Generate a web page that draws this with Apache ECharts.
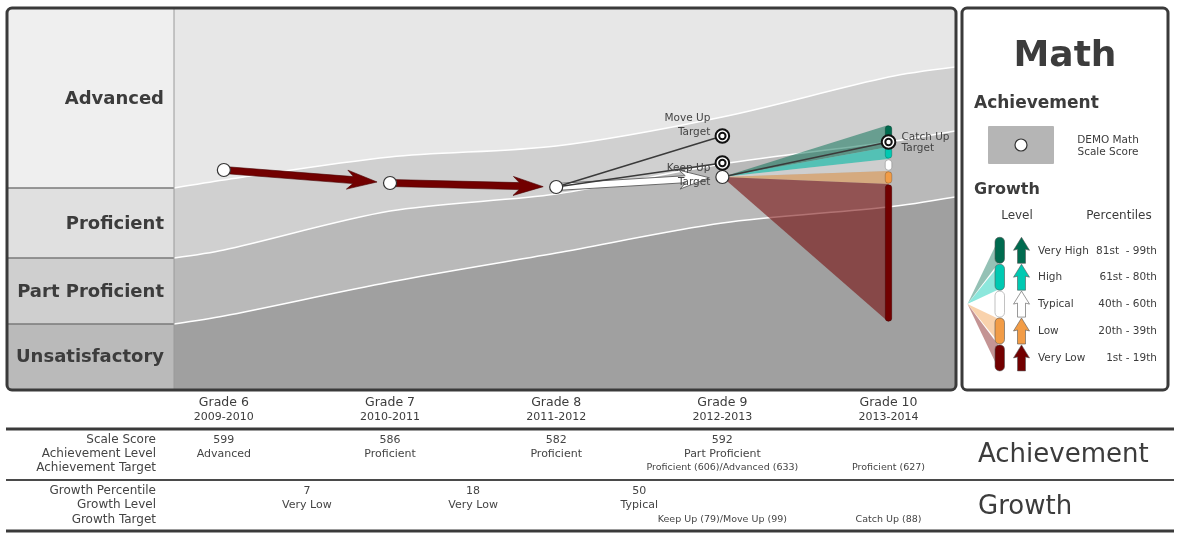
<!DOCTYPE html>
<html><head><meta charset="utf-8">
<script src="https://cdn.jsdelivr.net/npm/echarts@6.0.0/dist/echarts.min.js"></script>
<style>html,body{margin:0;padding:0;background:#fff}#c{width:1181px;height:539px}</style>
</head><body><div id="c"></div>
<script>
// ---------------- DATA ----------------
const grades = [6, 7, 8, 9, 10];
const gradeLabels = ['Grade 6', 'Grade 7', 'Grade 8', 'Grade 9', 'Grade 10'];
const years = ['2009-2010', '2010-2011', '2011-2012', '2012-2013', '2013-2014'];
const scaleScores = [599, 586, 582, 592];
const achLevels = ['Advanced', 'Proficient', 'Proficient', 'Part Proficient', ''];
const achTargets = ['', '', '', 'Proficient (606)/Advanced (633)', 'Proficient (627)'];
const growthPercentiles = [7, 18, 50];
const growthLevels = ['Very Low', 'Very Low', 'Typical'];
const growthTargets = ['', '', '', 'Keep Up (79)/Move Up (99)', 'Catch Up (88)'];
// achievement cut scores along the grade axis
const cutX = [5.7, 6, 7, 8, 9, 10, 10.4];
const cutAdvanced = [581, 589, 612, 623, 652, 692, 702];
const cutProficient = [511, 519, 558, 575, 605, 627, 638];
const cutPartProf = [445, 453, 487, 516, 546, 562, 572];
const levelNames = ['Advanced', 'Proficient', 'Part Proficient', 'Unsatisfactory'];
// targets  [grade, score, from grade, from score]
const targetNames = [['Move Up', 'Target'], ['Keep Up', 'Target'], ['Catch Up', 'Target']];
const targetScores = [633, 606, 627];
const targetGrades = [9, 9, 10];
const targetFromGrades = [8, 8, 9];
// growth projection cuts at grade 10 (99th, 80th, 60th, 40th, 20th, 1st percentile)
const projGrade = 10;
const projCuts = [644, 622, 610, 598, 585, 447];
const growthLevelNames = ['Very High', 'High', 'Typical', 'Low', 'Very Low'];
const percentileRanges = ['81st  - 99th', '61st - 80th', '40th - 60th', '20th - 39th', '1st - 19th'];
const growthColors = ['#006b4f', '#00c9b2', '#ffffff', '#f29c46', '#720000'];
const rowLabels = ['Scale Score', 'Achievement Level', 'Achievement Target', 'Growth Percentile', 'Growth Level', 'Growth Target'];

// ---------------- STYLE ----------------
const FONT = 'DejaVu Sans';
const TXT = '#3c3c3c';
const YMIN = 380, YMAX = 760;

const chart = echarts.init(document.getElementById('c'), null, {renderer: 'canvas'});

// arrows between consecutive grades
const arrows = [];
for (let i = 0; i < growthLevels.length; i++) {
  arrows.push([grades[i], scaleScores[i], grades[i + 1], scaleScores[i + 1], growthLevelNames.indexOf(growthLevels[i])]);
}
const lastG = grades[scaleScores.length - 1], lastS = scaleScores[scaleScores.length - 1];

// table cells: [x, row, text]
const tableCells = [];
grades.forEach((g, i) => {
  tableCells.push([g, 0, gradeLabels[i]]);
  tableCells.push([g, 1, years[i]]);
  if (scaleScores[i] !== undefined) tableCells.push([g, 2, String(scaleScores[i])]);
  if (achLevels[i]) tableCells.push([g, 3, achLevels[i]]);
  if (achTargets[i]) tableCells.push([g, 4, achTargets[i]]);
  if (growthTargets[i]) tableCells.push([g, 7, growthTargets[i]]);
});
growthPercentiles.forEach((p, j) => {
  const mx = (grades[j] + grades[j + 1]) / 2;
  tableCells.push([mx, 5, String(p)]);
  tableCells.push([mx, 6, growthLevels[j]]);
});
const rowY = [403, 417, 440, 454, 468, 491, 505, 520];
const rowFont = [12.5, 11, 11, 11, 9.5, 11, 11, 9.5];

const leftBands = [
  [cutAdvanced[0], YMAX], [cutProficient[0], cutAdvanced[0]],
  [cutPartProf[0], cutProficient[0]], [YMIN, cutPartProf[0]]
];
const leftColors = ['#efefef', '#e0e0e0', '#cfcfcf', '#bababa'];

function zip(xs, ys) { return xs.map((x, i) => [x, ys[i]]); }

function bandSeries(name, ys, color) {
  return {
    type: 'line', name, xAxisIndex: 0, yAxisIndex: 0, data: zip(cutX, ys), smooth: 0.3,
    symbol: 'none', silent: true, z: 1,
    lineStyle: {color: '#ffffff', width: 1.5},
    areaStyle: {color, opacity: 1, origin: 'start'}
  };
}

// ---------------- LEGEND GRAPHICS ----------------
const graphics = [];
// main panel & legend panel borders
graphics.push({type: 'rect', shape: {x: 962, y: 8, width: 206, height: 382, r: 5},
  style: {fill: '#ffffff', stroke: '#3a3a3a', lineWidth: 3}, z: -10});
graphics.push({type: 'rect', shape: {x: 7, y: 8, width: 949, height: 382, r: 5},
  style: {fill: null, stroke: '#3a3a3a', lineWidth: 3}, z: 100});
graphics.push({type: 'line', shape: {x1: 174, y1: 9, x2: 174, y2: 389}, style: {stroke: '#9a9a9a', lineWidth: 1}, z: 50});
graphics.push({type: 'text', style: {text: 'Math', x: 1065, y: 57, font: 'bold 36px ' + FONT, fill: TXT, textAlign: 'center', textVerticalAlign: 'middle'}});
graphics.push({type: 'text', style: {text: 'Achievement', x: 974, y: 104, font: 'bold 17px ' + FONT, fill: TXT, textAlign: 'left', textVerticalAlign: 'middle'}});
graphics.push({type: 'rect', shape: {x: 988, y: 126, width: 66, height: 38, r: 1}, style: {fill: '#b5b5b5'}});
graphics.push({type: 'circle', shape: {cx: 1021, cy: 145, r: 6}, style: {fill: '#fff', stroke: '#333', lineWidth: 1.2}});
graphics.push({type: 'text', style: {text: 'DEMO Math', x: 1108, y: 140, font: '10.5px ' + FONT, fill: TXT, textAlign: 'center', textVerticalAlign: 'middle'}});
graphics.push({type: 'text', style: {text: 'Scale Score', x: 1108, y: 152, font: '10.5px ' + FONT, fill: TXT, textAlign: 'center', textVerticalAlign: 'middle'}});
graphics.push({type: 'text', style: {text: 'Growth', x: 974, y: 190, font: 'bold 16px ' + FONT, fill: TXT, textAlign: 'left', textVerticalAlign: 'middle'}});
graphics.push({type: 'text', style: {text: 'Level', x: 1017, y: 216, font: '12px ' + FONT, fill: TXT, textAlign: 'center', textVerticalAlign: 'middle'}});
graphics.push({type: 'text', style: {text: 'Percentiles', x: 1119, y: 216, font: '12px ' + FONT, fill: TXT, textAlign: 'center', textVerticalAlign: 'middle'}});
const lgFanAlpha = [0.42, 0.45, 1, 0.45, 0.42];
growthLevelNames.forEach((nm, i) => {
  const top = 237.3 + i * 26.9, bot = top + 26;
  const col = growthColors[i];
  graphics.push({type: 'polygon', shape: {points: [[967.5, 304], [999, top + 1], [999, bot - 1]]},
    style: {fill: col, opacity: i === 2 ? 1 : lgFanAlpha[i]}, z: 1});
});
growthLevelNames.forEach((nm, i) => {
  const top = 237.3 + i * 26.9, bot = top + 26;
  const col = growthColors[i];
  graphics.push({type: 'rect', shape: {x: 995, y: top, width: 9.5, height: 26, r: 4.5},
    style: {fill: col, stroke: i === 2 ? '#999' : '#555', lineWidth: 0.6}, z: 2});
  const cx = 1021.5;
  graphics.push({type: 'polygon', shape: {points: [[cx, top], [cx + 8, top + 13], [cx + 4, top + 12], [cx + 4, bot], [cx - 4, bot], [cx - 4, top + 12], [cx - 8, top + 13]]},
    style: {fill: col, stroke: '#555', lineWidth: 0.6}, z: 2});
  graphics.push({type: 'text', style: {text: nm, x: 1038, y: top + 13.5, font: '10.5px ' + FONT, fill: TXT, textAlign: 'left', textVerticalAlign: 'middle'}});
  graphics.push({type: 'text', style: {text: percentileRanges[i], x: 1157, y: top + 13.5, font: '10.5px ' + FONT, fill: TXT, textAlign: 'right', textVerticalAlign: 'middle'}});
});
// table rules and labels
graphics.push({type: 'line', shape: {x1: 6, y1: 429, x2: 1174, y2: 429}, style: {stroke: '#3a3a3a', lineWidth: 3}});
graphics.push({type: 'line', shape: {x1: 6, y1: 480, x2: 1174, y2: 480}, style: {stroke: '#4a4a4a', lineWidth: 2}});
graphics.push({type: 'line', shape: {x1: 6, y1: 531, x2: 1174, y2: 531}, style: {stroke: '#3a3a3a', lineWidth: 3}});
const rowLabelY = [440, 454, 468, 491, 505, 520];
rowLabels.forEach((t, i) => {
  graphics.push({type: 'text', style: {text: t, x: 156, y: rowLabelY[i], font: '12px ' + FONT, fill: '#444', textAlign: 'right', textVerticalAlign: 'middle'}});
});
graphics.push({type: 'text', style: {text: 'Achievement', x: 978, y: 455, font: '26px ' + FONT, fill: TXT, textAlign: 'left', textVerticalAlign: 'middle'}});
graphics.push({type: 'text', style: {text: 'Growth', x: 978, y: 507, font: '26px ' + FONT, fill: TXT, textAlign: 'left', textVerticalAlign: 'middle'}});

// ---------------- OPTION ----------------
const option = {
  animation: false,
  grid: [
    {left: 174, top: 9, width: 781, height: 380, show: true, backgroundColor: '#e7e7e7', borderWidth: 0},
    {left: 8, top: 9, width: 166, height: 380, show: false}
  ],
  xAxis: [
    {type: 'value', gridIndex: 0, min: 5.7, max: 10.4, show: false},
    {type: 'value', gridIndex: 1, min: 0, max: 1, show: false}
  ],
  yAxis: [
    {type: 'value', gridIndex: 0, min: YMIN, max: YMAX, show: false},
    {type: 'value', gridIndex: 1, min: YMIN, max: YMAX, show: false}
  ],
  graphic: graphics,
  series: [
    bandSeries('Proficient', cutAdvanced, '#d0d0d0'),
    bandSeries('Part Proficient', cutProficient, '#b9b9b9'),
    bandSeries('Unsatisfactory', cutPartProf, '#a0a0a0'),
    // left level column
    {
      type: 'custom', xAxisIndex: 1, yAxisIndex: 1, silent: true, z: 2,
      data: leftBands.map(b => [0, b[0]]),
      renderItem: (params, api) => {
        const b = leftBands[params.dataIndex];
        const pTop = api.coord([0, b[1]]), pBot = api.coord([1, b[0]]);
        const children = [
          {type: 'rect', shape: {x: pTop[0], y: pTop[1], width: pBot[0] - pTop[0], height: pBot[1] - pTop[1]}, style: {fill: leftColors[params.dataIndex]}},
          {type: 'text', style: {text: levelNames[params.dataIndex], x: pBot[0] - 10, y: (pTop[1] + pBot[1]) / 2 + 1,
            font: 'bold 18px ' + FONT, fill: TXT, textAlign: 'right', textVerticalAlign: 'middle'}}
        ];
        if (params.dataIndex > 0) children.push({type: 'line', shape: {x1: pTop[0], y1: pTop[1], x2: pBot[0], y2: pTop[1]}, style: {stroke: '#7a7a7a', lineWidth: 1.5}});
        return {type: 'group', children};
      }
    },
    // growth projection fan
    {
      type: 'custom', xAxisIndex: 0, yAxisIndex: 0, silent: true, z: 3,
      data: growthColors.map((c, i) => [projGrade, projCuts[i]]),
      renderItem: (params, api) => {
        const i = params.dataIndex;
        const o = api.coord([lastG, lastS]);
        const a = api.coord([projGrade, projCuts[i]]), b = api.coord([projGrade, projCuts[i + 1]]);
        const op = [0.5, 0.55, 0.3, 0.5, 0.55][i];
        return {type: 'polygon', shape: {points: [o, a, b]}, style: {fill: growthColors[i], opacity: op}};
      }
    },
    // growth projection bars
    {
      type: 'custom', xAxisIndex: 0, yAxisIndex: 0, silent: true, z: 4,
      data: growthColors.map((c, i) => [projGrade, projCuts[i]]),
      renderItem: (params, api) => {
        const i = params.dataIndex;
        const a = api.coord([projGrade, projCuts[i]]), b = api.coord([projGrade, projCuts[i + 1]]);
        return {type: 'rect', shape: {x: a[0] - 3.3, y: a[1] + 0.8, width: 6.6, height: b[1] - a[1] - 1.6, r: 3},
          style: {fill: growthColors[i], stroke: i === 2 ? '#8a8a8a' : 'rgba(0,0,0,0.35)', lineWidth: 0.6}};
      }
    },
    // growth arrows
    {
      type: 'custom', xAxisIndex: 0, yAxisIndex: 0, silent: true, z: 5,
      data: arrows.map(a => [a[0], a[1]]),
      renderItem: (params, api) => {
        const a = arrows[params.dataIndex];
        const p0 = api.coord([a[0], a[1]]), p1 = api.coord([a[2], a[3]]);
        const dx = p1[0] - p0[0], dy = p1[1] - p0[1], len = Math.hypot(dx, dy);
        const ux = dx / len, uy = dy / len, nx = -uy, ny = ux;
        const L = len - 13;
        const pts = [[0, -3.5], [L - 24, -3.5], [L - 30, -9.5], [L, 0], [L - 30, 9.5], [L - 24, 3.5], [0, 3.5]]
          .map(([s, t]) => [p0[0] + ux * s + nx * t, p0[1] + uy * s + ny * t]);
        const white = a[4] === 2;
        return {type: 'polygon', shape: {points: pts},
          style: {fill: growthColors[a[4]], stroke: white ? '#6a6a6a' : '#4a0000', lineWidth: white ? 1 : 0.6}};
      }
    },
    // target lines
    {
      type: 'custom', xAxisIndex: 0, yAxisIndex: 0, silent: true, z: 6,
      data: targetScores.map((s, i) => [targetGrades[i], s]),
      renderItem: (params, api) => {
        const i = params.dataIndex;
        const fg = targetFromGrades[i];
        const fs = scaleScores[grades.indexOf(fg)];
        const p0 = api.coord([fg, fs]), p1 = api.coord([targetGrades[i], targetScores[i]]);
        return {type: 'line', shape: {x1: p0[0], y1: p0[1], x2: p1[0], y2: p1[1]}, style: {stroke: '#3a3a3a', lineWidth: 1.4}};
      }
    },
    // scale score points
    {
      type: 'scatter', xAxisIndex: 0, yAxisIndex: 0, silent: true, z: 7,
      data: scaleScores.map((s, i) => [grades[i], s]),
      symbol: 'circle', symbolSize: 13,
      itemStyle: {color: '#ffffff', borderColor: '#333333', borderWidth: 1.2, opacity: 1}
    },
    // target symbols and labels
    {
      type: 'custom', xAxisIndex: 0, yAxisIndex: 0, silent: true, z: 8,
      data: targetScores.map((s, i) => [targetGrades[i], s]),
      renderItem: (params, api) => {
        const i = params.dataIndex;
        const p = api.coord([targetGrades[i], targetScores[i]]);
        const lines = targetNames[i];
        const font = '10.5px ' + FONT;
        let labels;
        if (i === 0) labels = [[p[0] - 12, p[1] - 18, 'right'], [p[0] - 12, p[1] - 4, 'right']];
        else if (i === 1) labels = [[p[0] - 12, p[1] + 5, 'right'], [p[0] - 12, p[1] + 19, 'right']];
        else labels = [[p[0] + 13, p[1] - 5, 'left'], [p[0] + 13, p[1] + 6, 'left']];
        const children = [
          {type: 'circle', shape: {cx: p[0], cy: p[1], r: 6.8}, style: {fill: '#fff', stroke: '#111', lineWidth: 2}},
          {type: 'circle', shape: {cx: p[0], cy: p[1], r: 3.2}, style: {fill: '#fff', stroke: '#111', lineWidth: 2}}
        ];
        labels.forEach((l, k) => children.push({type: 'text', style: {text: lines[k], x: l[0], y: l[1], font, fill: '#444', textAlign: l[2], textVerticalAlign: 'middle'}}));
        return {type: 'group', children};
      }
    },
    // table text
    {
      type: 'custom', xAxisIndex: 0, yAxisIndex: 0, silent: true, clip: false, z: 9,
      data: tableCells.map(c => [c[0], YMIN]),
      renderItem: (params, api) => {
        const c = tableCells[params.dataIndex];
        const x = api.coord([c[0], YMIN])[0];
        const fill = c[1] <= 1 ? TXT : '#444';
        return {type: 'text', style: {text: c[2], x, y: rowY[c[1]], font: rowFont[c[1]] + 'px ' + FONT, fill, textAlign: 'center', textVerticalAlign: 'middle'}};
      }
    }
  ]
};
chart.setOption(option);
</script>
</body></html>
